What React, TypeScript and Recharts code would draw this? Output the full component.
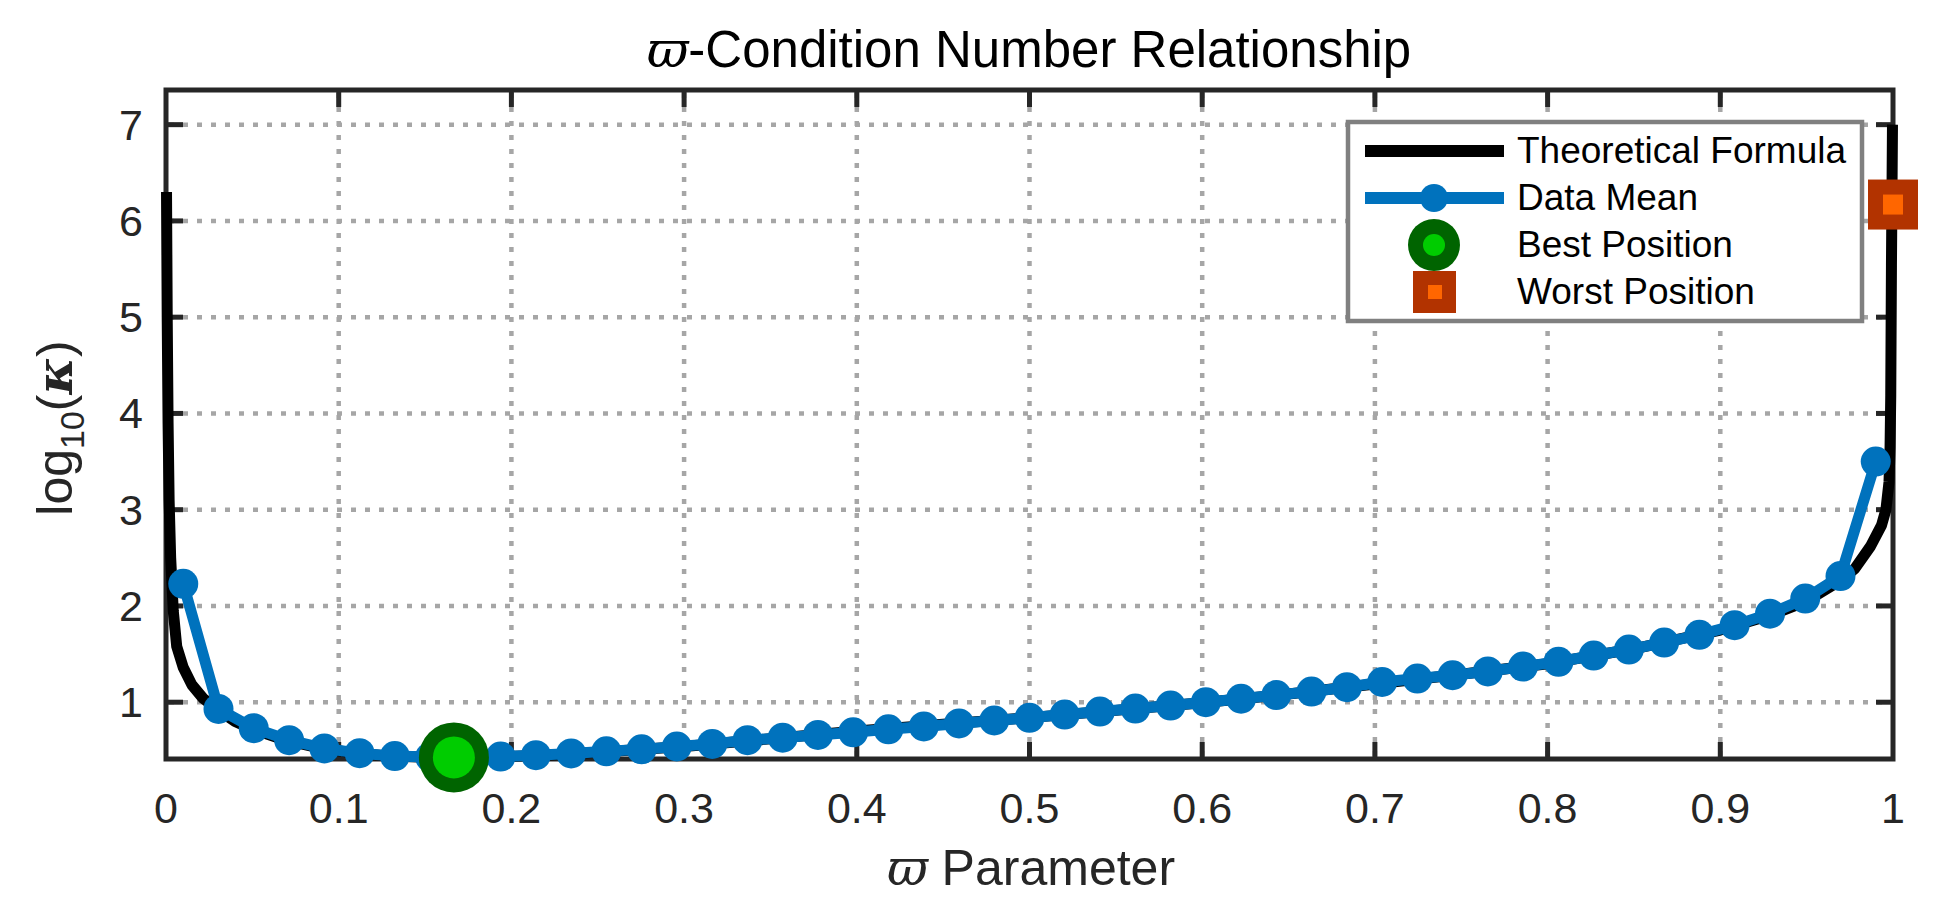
import { ComposedChart, Line, Scatter, XAxis, YAxis, CartesianGrid } from 'recharts';

// ϖ values of the measured points
const paramX = [
  0.01, 0.0304, 0.0508, 0.0713, 0.0917, 0.1121, 0.1325, 0.1529, 0.1733, 0.1938,
  0.2142, 0.2346, 0.255, 0.2754, 0.2958, 0.3163, 0.3367, 0.3571, 0.3775, 0.3979,
  0.4183, 0.4388, 0.4592, 0.4796, 0.5, 0.5204, 0.5408, 0.5613, 0.5817, 0.6021,
  0.6225, 0.6429, 0.6633, 0.6838, 0.7042, 0.7246, 0.745, 0.7654, 0.7858, 0.8063,
  0.8267, 0.8471, 0.8675, 0.8879, 0.9083, 0.9288, 0.9492, 0.9696, 0.99,
];

// log10(kappa), data mean
const meanLogK = [
  2.23, 0.93, 0.73, 0.605, 0.52, 0.47, 0.44, 0.43, 0.428, 0.435,
  0.45, 0.468, 0.49, 0.51, 0.54, 0.567, 0.605, 0.632, 0.66, 0.687,
  0.718, 0.748, 0.779, 0.81, 0.838, 0.872, 0.903, 0.934, 0.965, 1.0,
  1.036, 1.074, 1.11, 1.156, 1.21, 1.246, 1.28, 1.32, 1.37, 1.42,
  1.485, 1.547, 1.62, 1.7, 1.8, 1.92, 2.077, 2.31, 3.5,
];

// theoretical curve
const formulaX = [
  0.0003, 0.0007, 0.0012, 0.0018, 0.0027, 0.0042, 0.0062, 0.01, 0.015, 0.0215,
  0.031, 0.04, 0.05, 0.07, 0.09, 0.11, 0.13, 0.15, 0.167, 0.19,
  0.22, 0.25, 0.3, 0.35, 0.4, 0.45, 0.5, 0.55, 0.6, 0.65,
  0.7, 0.75, 0.8, 0.85, 0.9, 0.93, 0.95, 0.97, 0.978, 0.987,
  0.9934, 0.9959, 0.9977, 0.9983, 0.9987, 0.9991, 0.9997,
];
const formulaLogK = [
  6.3, 5.0, 3.9, 3.1, 2.5, 1.95, 1.58, 1.36, 1.18, 1.04,
  0.91, 0.8, 0.72, 0.6, 0.52, 0.47, 0.44, 0.428, 0.424, 0.43,
  0.45, 0.48, 0.54, 0.62, 0.7, 0.77, 0.84, 0.915, 0.995, 1.085,
  1.19, 1.29, 1.4, 1.555, 1.75, 1.91, 2.05, 2.27, 2.39, 2.62,
  2.84, 3.0, 3.29, 3.65, 4.19, 5.54, 7.0,
];

const bestPos = [{ x: 0.1667, y: 0.426 }];
const worstPos = [{ x: 1.0, y: 6.17 }];

const xTicks = [0, 0.1, 0.2, 0.3, 0.4, 0.5, 0.6, 0.7, 0.8, 0.9, 1];
const yTicks = [1, 2, 3, 4, 5, 6, 7];
const Y_MIN = 0.41;
const Y_MAX = 7.36;

const meanData = paramX.map((x, i) => ({ x, y: meanLogK[i] }));
const formulaData = formulaX.map((x, i) => ({ x, y: formulaLogK[i] }));

const W = 1953;
const H = 916;
const PLOT_LEFT = 166;
const PLOT_RIGHT = 1893;
const PLOT_TOP = 90;
const TICK_LEN = 17;
const AXIS = '#262626';
const GRID = '#a6a6a6';
const BLUE = '#0072BD';
const FONT = '"Liberation Sans", Arial, Helvetica, sans-serif';
const SERIF = '"DejaVu Serif", "Liberation Serif", serif';

// grid lines, inward ticks and the axes box live in the grid layer so the data sits above them
const HGridLine = (p: any) => {
  const edge = Math.abs(p.y1 - p.y) < 1 || Math.abs(p.y1 - (p.y + p.height)) < 1;
  return (
    <g>
      {!edge && (
        <>
          <line x1={p.x1 + 3} x2={p.x2 - 3} y1={p.y1} y2={p.y2} stroke={GRID} strokeWidth={4.5} strokeDasharray="5 9" />
          <line x1={p.x1} x2={p.x1 + TICK_LEN} y1={p.y1} y2={p.y1} stroke={AXIS} strokeWidth={5} />
          <line x1={p.x2} x2={p.x2 - TICK_LEN} y1={p.y1} y2={p.y1} stroke={AXIS} strokeWidth={5} />
        </>
      )}
      {p.index === 0 && (
        <rect x={p.x} y={p.y} width={p.width} height={p.height} fill="none" stroke={AXIS} strokeWidth={5} />
      )}
    </g>
  );
};

const VGridLine = (p: any) => {
  const edge = Math.abs(p.x1 - p.x) < 1 || Math.abs(p.x1 - (p.x + p.width)) < 1;
  if (edge) return <g />;
  return (
    <g>
      <line x1={p.x1} x2={p.x2} y1={p.y1 + 3} y2={p.y2 - 3} stroke={GRID} strokeWidth={4.5} strokeDasharray="5 9" />
      <line x1={p.x1} x2={p.x1} y1={p.y1} y2={p.y1 + TICK_LEN} stroke={AXIS} strokeWidth={5} />
      <line x1={p.x1} x2={p.x1} y1={p.y2} y2={p.y2 - TICK_LEN} stroke={AXIS} strokeWidth={5} />
    </g>
  );
};

const XTick = ({ x, payload }: any) => (
  <text x={x} y={823} textAnchor="middle" fontSize={43} fill={AXIS} fontFamily={FONT}>
    {payload.value}
  </text>
);

const YTick = ({ y, payload }: any) => (
  <text x={143} y={y + 15} textAnchor="end" fontSize={43} fill={AXIS} fontFamily={FONT}>
    {payload.value}
  </text>
);

const BestShape = ({ cx, cy }: any) => (
  <g>
    <circle cx={cx} cy={cy} r={35} fill="#006400" />
    <circle cx={cx} cy={cy} r={21} fill="#00CC00" />
  </g>
);

const WorstShape = ({ cx, cy }: any) => (
  <g>
    <rect x={cx - 25} y={cy - 25} width={50} height={50} fill="#B23300" />
    <rect x={cx - 10} y={cy - 10} width={20} height={20} fill="#FF6600" />
  </g>
);

const Overlay = () => (
  <svg width={W} height={H} style={{ position: 'absolute', left: 0, top: 0, pointerEvents: 'none' }}>
    <text x={1029} y={67} textAnchor="middle" fontSize={51} fontFamily={FONT} fill="#000">
      <tspan fontFamily={SERIF} fontStyle="italic">ϖ</tspan>-Condition Number Relationship
    </text>
    <text x={1031} y={885} textAnchor="middle" fontSize={50} fontFamily={FONT} fill={AXIS}>
      <tspan fontFamily={SERIF} fontStyle="italic">ϖ</tspan> Parameter
    </text>
    <text
      x={72}
      y={428}
      transform="rotate(-90, 72, 428)"
      textAnchor="middle"
      fontSize={50}
      fontFamily={FONT}
      fill={AXIS}
    >
      log
      <tspan fontSize={34} dy={12}>10</tspan>
      <tspan dy={-12}>(</tspan>
      <tspan fontFamily={SERIF} fontStyle="italic" fontWeight="bold">κ</tspan>)
    </text>

    {/* legend */}
    <rect x={1348} y={122} width={514} height={199} fill="#fff" stroke="#808080" strokeWidth={4.5} />
    <line x1={1365} x2={1504} y1={151} y2={151} stroke="#000" strokeWidth={12} />
    <line x1={1365} x2={1504} y1={198} y2={198} stroke={BLUE} strokeWidth={12} />
    <circle cx={1434} cy={198} r={14} fill={BLUE} />
    <circle cx={1434} cy={245} r={26} fill="#006400" />
    <circle cx={1434} cy={245} r={11} fill="#00CC00" />
    <rect x={1413} y={271} width={43} height={42} fill="#B23300" />
    <rect x={1428} y={285} width={14} height={14} fill="#FF6600" />
    <g fontSize={37} fontFamily={FONT} fill="#000">
      <text x={1517} y={163}>Theoretical Formula</text>
      <text x={1517} y={210}>Data Mean</text>
      <text x={1517} y={257}>Best Position</text>
      <text x={1517} y={304}>Worst Position</text>
    </g>
  </svg>
);

export default function App() {
  return (
    <div style={{ position: 'absolute', left: 0, top: 0, width: W, height: H, background: '#fff' }}>
      <ComposedChart
        width={W}
        height={H}
        margin={{ top: PLOT_TOP, right: W - PLOT_RIGHT, left: 0, bottom: 57 }}
      >
        <CartesianGrid horizontal={HGridLine} vertical={VGridLine} />
        <XAxis
          dataKey="x"
          type="number"
          domain={[0, 1]}
          ticks={xTicks}
          interval={0}
          axisLine={false}
          tickLine={false}
          height={100}
          tick={<XTick />}
        />
        <YAxis
          type="number"
          domain={[Y_MIN, Y_MAX]}
          ticks={yTicks}
          interval={0}
          axisLine={false}
          tickLine={false}
          width={PLOT_LEFT}
          tick={<YTick />}
        />
        <Line
          data={formulaData}
          dataKey="y"
          stroke="#000"
          strokeWidth={11}
          strokeLinejoin="round"
          dot={false}
          activeDot={false}
          isAnimationActive={false}
        />
        <Line
          data={meanData}
          dataKey="y"
          stroke={BLUE}
          strokeWidth={11}
          strokeLinejoin="round"
          dot={{ r: 15, fill: BLUE, stroke: BLUE, strokeWidth: 0 }}
          activeDot={false}
          isAnimationActive={false}
        />
        <Scatter data={bestPos} dataKey="y" shape={<BestShape />} isAnimationActive={false} />
        <Scatter data={worstPos} dataKey="y" shape={<WorstShape />} isAnimationActive={false} />
      </ComposedChart>
      <Overlay />
    </div>
  );
}
